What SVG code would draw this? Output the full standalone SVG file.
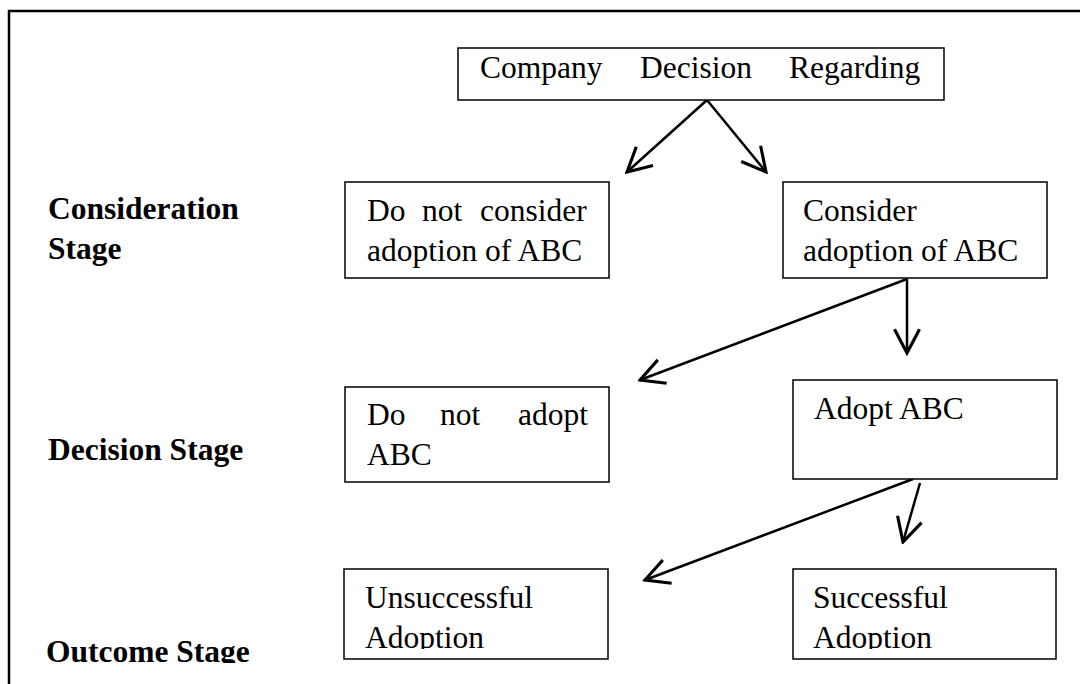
<svg xmlns="http://www.w3.org/2000/svg" width="1080" height="684" viewBox="0 0 1080 684">
  <style>
    .box { fill: #fff; stroke: #000; stroke-width: 1.5; }
    .t { font-family: "Liberation Serif", "Times New Roman", serif; font-size: 31.5px; fill: #000; }
    .lbl { font-family: "Liberation Serif", "Times New Roman", serif; font-size: 31.5px; font-weight: bold; fill: #000; }
    .edge { fill: none; stroke: #000; stroke-width: 2.5; }
  </style>
  <defs>
    <marker id="arrow" markerUnits="userSpaceOnUse" markerWidth="30" markerHeight="30" viewBox="-22 -12 24 24" refX="0" refY="0" orient="auto">
      <path d="M-19,-10 L0,0 L-19,10" fill="none" stroke="#000" stroke-width="2.5" stroke-linejoin="miter"/>
    </marker>
    <clipPath id="clipBottom"><rect x="0" y="0" width="1080" height="649"/></clipPath>
    <clipPath id="clipOutcome"><rect x="0" y="0" width="1080" height="663"/></clipPath>
  </defs>

  <rect width="1080" height="684" fill="#fff"/>

  <!-- outer frame (open at right and bottom) -->
  <path d="M9,700 L9,11 L1090,11" fill="none" stroke="#000" stroke-width="2.5"/>

  <!-- stage labels -->
  <g id="label-consideration">
    <text class="lbl" x="48" y="219">Consideration</text>
    <text class="lbl" x="48" y="259">Stage</text>
  </g>
  <g id="label-decision">
    <text class="lbl" x="48" y="460">Decision Stage</text>
  </g>
  <g id="label-outcome" clip-path="url(#clipOutcome)">
    <text class="lbl" x="46" y="662">Outcome Stage</text>
  </g>

  <!-- connectors -->
  <g id="connectors">
    <line class="edge" x1="707" y1="100" x2="627" y2="172" marker-end="url(#arrow)"/>
    <line class="edge" x1="707" y1="100" x2="766" y2="172" marker-end="url(#arrow)"/>
    <line class="edge" x1="907" y1="279" x2="907" y2="353" marker-end="url(#arrow)"/>
    <line class="edge" x1="907" y1="279" x2="640" y2="380" marker-end="url(#arrow)"/>
    <line class="edge" x1="913" y1="479" x2="645" y2="580" marker-end="url(#arrow)"/>
    <line class="edge" x1="920" y1="483" x2="903" y2="542" marker-end="url(#arrow)"/>
  </g>

  <g id="node-company">
    <rect class="box" x="458" y="48" width="486" height="52"/>
    <text class="t" y="78"><tspan x="480">Company</tspan><tspan x="640">Decision</tspan><tspan x="789">Regarding</tspan></text>
  </g>

  <g id="node-not-consider">
    <rect class="box" x="345" y="182" width="264" height="96"/>
    <text class="t" y="221"><tspan x="367">Do</tspan><tspan x="422">not</tspan><tspan x="480">consider</tspan></text>
    <text class="t" x="367" y="261">adoption of ABC</text>
  </g>

  <g id="node-consider">
    <rect class="box" x="783" y="182" width="264" height="96"/>
    <text class="t" x="803" y="221">Consider</text>
    <text class="t" x="803" y="261">adoption of ABC</text>
  </g>

  <g id="node-not-adopt">
    <rect class="box" x="345" y="387" width="264" height="95"/>
    <text class="t" y="425"><tspan x="367">Do</tspan><tspan x="440">not</tspan><tspan x="518">adopt</tspan></text>
    <text class="t" x="367" y="465">ABC</text>
  </g>

  <g id="node-adopt">
    <rect class="box" x="793" y="380" width="264" height="99"/>
    <text class="t" x="814" y="419">Adopt ABC</text>
  </g>

  <g id="node-unsuccessful">
    <rect class="box" x="344" y="569" width="264" height="90"/>
    <g clip-path="url(#clipBottom)">
      <text class="t" x="365" y="608">Unsuccessful</text>
      <text class="t" x="365" y="648">Adoption</text>
    </g>
  </g>

  <g id="node-successful">
    <rect class="box" x="793" y="569" width="263" height="90"/>
    <g clip-path="url(#clipBottom)">
      <text class="t" x="813" y="608">Successful</text>
      <text class="t" x="813" y="648">Adoption</text>
    </g>
  </g>
</svg>
